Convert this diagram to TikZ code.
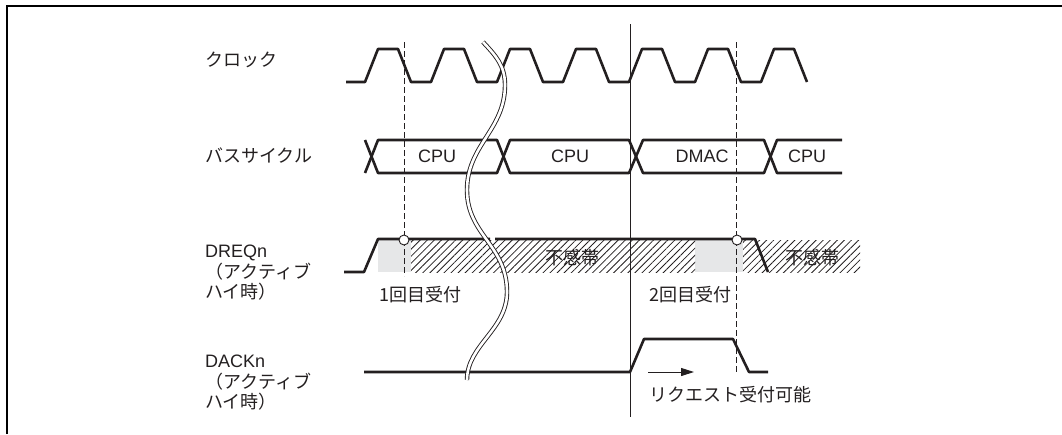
\documentclass[tikz,border=0pt]{standalone}
\usepackage{fontspec}
\setmainfont{Liberation Sans}
\newfontfamily\jpfont{Noto Sans CJK JP}
\usepackage{xcolor}
\usetikzlibrary{arrows.meta,patterns.meta}
\definecolor{sigline}{RGB}{35,31,32}
\definecolor{acceptgray}{RGB}{230,231,232}

\begin{document}
\begin{tikzpicture}[x=1pt,y=-1pt,
    sig/.style={draw=sigline,line width=2.6pt,line join=round},
    guide/.style={draw=sigline,line width=1pt,dash pattern=on 6pt off 3pt},
    lbl/.style={inner sep=0pt,text=sigline,font={\fontsize{18}{20.5}\selectfont}},
    deadband/.style={pattern={Lines[angle=45,distance=5pt,line width=0.8pt]},pattern color=sigline},
    accept/.style={fill=acceptgray}]
\useasboundingbox (0,0) rectangle (1062,434);
\draw[line width=2pt] (7,434) -- (7,6) -- (1062,6);

% row labels
\node[lbl,anchor=west] (clklbl) at (205,60) {\jpfont クロック};
\node[lbl,anchor=west] (buslbl) at (205,156) {\jpfont バスサイクル};
\node[lbl,align=left,anchor=north west] (dreqlbl) at (205,245) {DREQn\\\jpfont （アクティブ\\\jpfont ハイ時）};
\node[lbl,align=left,anchor=north west] (dacklbl) at (205,355) {DACKn\\\jpfont （アクティブ\\\jpfont ハイ時）};

% DREQn areas
\fill[accept] (378,240) rectangle (411,272);
\fill[accept] (695,240) rectangle (743,272);
\fill[deadband] (411,240) rectangle (695,272);
\fill[deadband] (743,240) rectangle (860,272);

% clock
\draw[sig] (346,82) \foreach \k in {0,...,6}{ -- ({365+66*\k},82) -- ++(13,-33) -- ++(20,0) -- ++(13,33)};

% bus cycle
\draw[sig] (365,173) -- (378,140) -- (497,140) -- (510,173) -- (629,173) -- (643,140) -- (764,140) -- (777,173) -- (842,173);
\draw[sig] (365,140) -- (378,173) -- (497,173) -- (510,140) -- (629,140) -- (643,173) -- (764,173) -- (777,140) -- (842,140);
\node[lbl] (cpu1) at (437,156) {CPU};
\node[lbl] (cpu2) at (570,156) {CPU};
\node[lbl] (dmac) at (702,156) {DMAC};
\node[lbl] (cpu3) at (807,156) {CPU};

% DREQn
\draw[sig] (344,272) -- (364,272) -- (378,239) -- (490,239);
\draw[sig] (495,239) -- (755,239) -- (768,272);
\node[lbl] (dead1) at (572,258) {\jpfont 不感帯};
\node[lbl] (dead2) at (812,258) {\jpfont 不感帯};
\node[lbl] (acc1) at (420,295) {\jpfont 1回目受付};
\node[lbl] (acc2) at (690,295) {\jpfont 2回目受付};

% DACKn
\draw[sig] (364,372) -- (630,372) -- (644,339) -- (733,339) -- (749,372) -- (768,372);
\coordinate (arrS) at (648,372);
\coordinate (arrE) at (694,372);
\draw[-{Triangle[length=13pt,width=8pt]},line width=1pt,sigline] (arrS) -- (arrE);
\node[lbl] (reqok) at (730,395) {\jpfont リクエスト受付可能};

% timing marks
\draw[line width=1pt,sigline] (630,24) -- (630,417);
\draw[guide] (404,42) -- (404,276);
\draw[guide] (736,42) -- (736,374);
\draw[sigline,line width=0.9pt,fill=white] (404,240) circle (5);
\draw[sigline,line width=0.9pt,fill=white] (737,240) circle (5);

% break
\draw[sigline,line width=0.9pt,double=white,double distance=2.6pt]
  (483,42) .. controls (495,55) and (505,65) .. (505,85)
  .. controls (505,130) and (467,145) .. (467,190)
  .. controls (467,235) and (507,245) .. (507,292)
  .. controls (507,330) and (467,345) .. (467,380);
\end{tikzpicture}
\end{document}
